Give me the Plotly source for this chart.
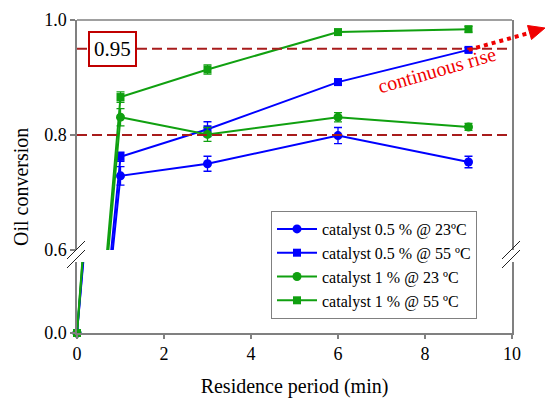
import plotly.graph_objects as go

# ---------------- data ----------------
time_min = [0, 1, 3, 6, 9]
cat05_23 = [0.0, 0.729, 0.750, 0.799, 0.753]
cat05_23_err = [0.0, 0.016, 0.013, 0.014, 0.010]
cat05_55 = [0.0, 0.762, 0.810, 0.892, 0.948]
cat05_55_err = [0.0, 0.008, 0.013, 0.005, 0.004]
cat1_23 = [0.0, 0.831, 0.801, 0.831, 0.814]
cat1_23_err = [0.0, 0.015, 0.012, 0.008, 0.006]
cat1_55 = [0.0, 0.866, 0.914, 0.979, 0.984]
cat1_55_err = [0.0, 0.009, 0.008, 0.004, 0.005]

names = ["catalyst 0.5 % @ 23\u00baC", "catalyst 0.5 % @ 55 \u00baC",
         "catalyst 1 % @ 23 \u00baC", "catalyst 1 % @ 55 \u00baC"]
ref_levels = [0.95, 0.8]
y_upper_ticks = [0.6, 0.8, 1.0]
y_lower_ticks = [0.0]
x_ticks = [0, 2, 4, 6, 8, 10]

BLUE = "#0000FF"
GREEN = "#10A010"
series = [
    (cat05_23, cat05_23_err, BLUE, "circle", 9),
    (cat05_55, cat05_55_err, BLUE, "square", 8),
    (cat1_23, cat1_23_err, GREEN, "circle", 9),
    (cat1_55, cat1_55_err, GREEN, "square", 8),
]

FONT = "Liberation Serif"
AXC = "#808080"

W, H = 547, 398
ML, MR, MT, MB = 77, 35, 20, 65
PH = H - MT - MB
low_dom = [0, (H - MB - 262) / PH]
up_dom = [(H - MB - 250) / PH, 1]
low_range = [0, 0.105]
up_range = [0.6, 1.0]

fig = go.Figure()

for (vals, errs, col, sym, sz), nm in zip(series, names):
    fig.add_trace(go.Scatter(
        x=time_min, y=vals, name=nm, mode="lines+markers",
        xaxis="x", yaxis="y2",
        line=dict(color=col, width=2),
        marker=dict(symbol=sym, size=sz, color=col),
        error_y=dict(type="data", array=errs, color=col, thickness=1.3, width=4),
    ))
for (vals, errs, col, sym, sz), nm in zip(series, names):
    fig.add_trace(go.Scatter(
        x=time_min, y=vals, mode="lines", showlegend=False,
        xaxis="x", yaxis="y", line=dict(color=col, width=2), hoverinfo="skip",
    ))
for (vals, errs, col, sym, sz), nm in zip(series, names):
    fig.add_trace(go.Scatter(
        x=time_min[:1], y=vals[:1], mode="markers", showlegend=False,
        xaxis="x", yaxis="y", cliponaxis=False,
        marker=dict(symbol=sym, size=sz, color=col),
    ))

shapes = []
for lv in ref_levels:
    shapes.append(dict(type="line", xref="x", yref="y2", x0=0, x1=10, y0=lv, y1=lv,
                       line=dict(color="#A81C1C", width=2, dash="10px,5px"), layer="above"))
shapes.append(dict(type="line", xref="paper", yref="paper", x0=0, x1=1, y0=1, y1=1,
                   line=dict(color=AXC, width=1.5)))


def px2paper(px, py):
    return (px - ML) / (W - ML - MR), (H - MB - py) / PH


for bx in (ML, W - MR):
    for dy in (0, 9):
        x0, y0 = px2paper(bx - 10, 259 + dy)
        x1, y1 = px2paper(bx + 8, 241 + dy)
        shapes.append(dict(type="line", xref="paper", yref="paper", x0=x0, y0=y0, x1=x1, y1=y1,
                           line=dict(color="#222222", width=1)))


def data2paper(x, y):
    return x / 10, up_dom[0] + (y - up_range[0]) / (up_range[1] - up_range[0]) * (up_dom[1] - up_dom[0])


sx, sy = data2paper(time_min[-1], cat05_55[-1])
bx_, by_ = px2paper(529, 33)
shapes.append(dict(type="line", xref="paper", yref="paper", x0=sx, y0=sy, x1=bx_, y1=by_,
                   line=dict(color="#F00000", width=4, dash="dot")))
p1 = px2paper(545, 28)
p2 = px2paper(527.5, 25.5)
p3 = px2paper(531.5, 39.5)
shapes.append(dict(type="path", xref="paper", yref="paper",
                   path=f"M {p1[0]} {p1[1]} L {p2[0]} {p2[1]} L {p3[0]} {p3[1]} Z",
                   fillcolor="#F00000", line=dict(color="#F00000", width=1)))

annotations = [
    dict(x=0.816, y=ref_levels[0], xref="x", yref="y2", text="0.95", showarrow=False,
         xanchor="center", yanchor="middle",
         font=dict(family=FONT, size=21, color="black"), bgcolor="white",
         bordercolor="#C00000", borderwidth=2, borderpad=4),
    dict(x=px2paper(437, 70)[0], y=px2paper(437, 70)[1], xref="paper", yref="paper",
         xanchor="center", yanchor="middle",
         text="continuous rise", showarrow=False, textangle=-16,
         font=dict(family=FONT, size=20, color="#F00000")),
    dict(x=px2paper(21, 187)[0], y=px2paper(21, 187)[1], xref="paper", yref="paper",
         xanchor="center", yanchor="middle",
         text="Oil conversion", showarrow=False, textangle=-90,
         font=dict(family=FONT, size=20, color="black")),
]

axis_common = dict(showgrid=False, zeroline=False, showline=True, linecolor=AXC, linewidth=1.5,
                   ticks="outside", tickcolor=AXC, tickwidth=1.5, automargin=False,
                   tickfont=dict(family=FONT, size=18, color="black"))

fig.update_layout(
    width=W, height=H, margin=dict(l=ML, r=MR, t=MT, b=MB),
    plot_bgcolor="white", paper_bgcolor="white",
    font=dict(family=FONT),
    xaxis=dict(range=[0, 10], tickvals=x_ticks, ticklen=4, anchor="y",
               title=dict(text="Residence period (min)", font=dict(family=FONT, size=20, color="black"),
                          standoff=16),
               **axis_common),
    yaxis=dict(domain=low_dom, range=low_range, tickvals=y_lower_ticks, tickformat=".1f",
               ticklen=5, mirror=True, anchor="x", **axis_common),
    yaxis2=dict(domain=up_dom, range=up_range, tickvals=y_upper_ticks, tickformat=".1f",
                ticklen=5, mirror=True, anchor="x", **axis_common),
    shapes=shapes, annotations=annotations,
    legend=dict(x=px2paper(271, 211)[0], y=px2paper(271, 211)[1], xanchor="left", yanchor="top",
                bgcolor="white", bordercolor=AXC, borderwidth=1, itemwidth=40,
                font=dict(family=FONT, size=16, color="black"), tracegroupgap=0),
    showlegend=True,
)

fig.write_html("out.html")
